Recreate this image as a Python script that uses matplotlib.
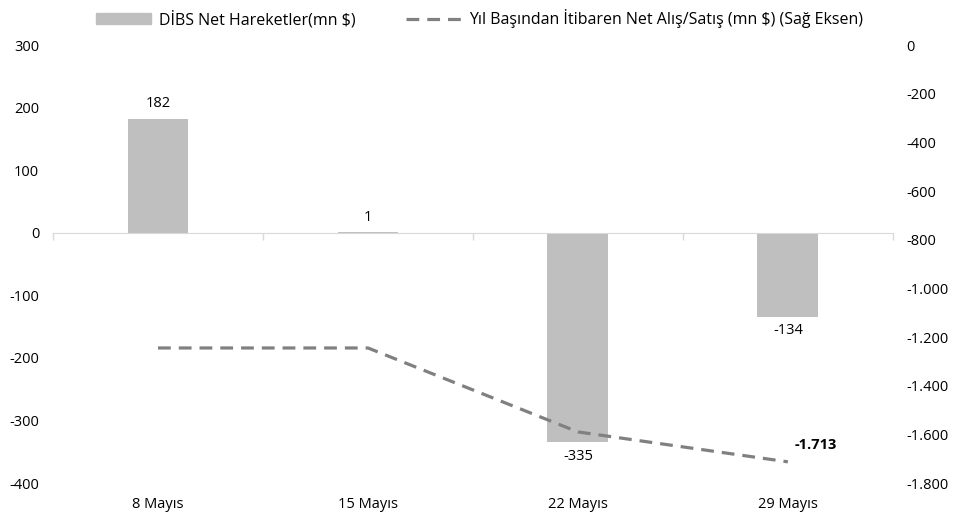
import matplotlib.pyplot as plt
import matplotlib.ticker as mticker
from matplotlib.patches import Patch
from matplotlib.lines import Line2D
import numpy as np

plt.rcParams['font.family'] = ['Open Sans', 'DejaVu Sans']
plt.rcParams['axes.unicode_minus'] = False

dates = ["8 Mayıs", "15 Mayıs", "22 Mayıs", "29 Mayıs"]
dibs_net = [182, 1, -335, -134]
ytd_net = [-1245, -1245, -1590, -1713]

x = np.arange(len(dates))
fs = 10.5

fig = plt.figure(figsize=(9.59, 5.21), dpi=100)
ax = fig.add_axes([0.0553, 0.0729, 0.8757, 0.8407])
ax2 = ax.twinx()

ax.bar(x, dibs_net, width=0.29, color="#bfbfbf", zorder=2)
ax.set_xlim(-0.5, len(dates) - 0.5)
ax.set_ylim(-400, 300)
ax.set_yticks(range(-400, 301, 100))

# zero line acts as category axis
for s in ["top", "right", "left"]:
    ax.spines[s].set_visible(False)
ax.spines["bottom"].set_position(("data", 0))
ax.spines["bottom"].set_color("#d9d9d9")
ax.set_xticks(x)
ax.set_xticklabels([])
ax.tick_params(axis="x", which="major", length=0)
ax.set_xticks(np.arange(-0.5, len(dates), 1), minor=True)
ax.tick_params(axis="x", which="minor", length=5, color="#d9d9d9", width=1)
ax.tick_params(axis="y", length=0, labelsize=fs, pad=10)

for i, d in enumerate(dates):
    ax.text(i, -0.05, d, transform=ax.get_xaxis_transform(), ha="center",
            va="center", fontsize=fs)

for i, v in enumerate(dibs_net):
    if v >= 0:
        ax.text(i, v + 12, str(v), ha="center", va="bottom", fontsize=fs)
    else:
        ax.text(i, v - 10, str(v), ha="center", va="top", fontsize=fs)

ax2.plot(x, ytd_net, color="#808080", lw=2.3, ls=(0, (4, 2.5)), zorder=3)
ax2.set_ylim(-1800, 0)
ax2.set_yticks(range(-1800, 1, 200))
ax2.yaxis.set_major_formatter(mticker.FuncFormatter(
    lambda v, p: f"{int(v):,}".replace(",", ".")))
for s in ["top", "right", "left", "bottom"]:
    ax2.spines[s].set_visible(False)
ax2.tick_params(axis="y", length=0, labelsize=fs, pad=10)

last = ytd_net[-1]
ax2.text(x[-1] + 0.03, last + 40, f"{last:,}".replace(",", "."),
         ha="left", va="bottom", fontsize=fs, fontweight="bold")

handles = [Patch(color="#bfbfbf"),
           Line2D([0], [0], color="#808080", lw=2.3, ls=(0, (4, 2.5)))]
labels = ["DİBS Net Hareketler(mn $)",
          "Yıl Başından İtibaren Net Alış/Satış (mn $) (Sağ Eksen)"]
fig.legend(handles, labels, loc="upper center", bbox_to_anchor=(0.5, 1.01),
           ncol=2, frameon=False, fontsize=11.5, handlelength=3.4,
           columnspacing=3.2, handletextpad=0.5)

fig.savefig("out.png", dpi=100)
